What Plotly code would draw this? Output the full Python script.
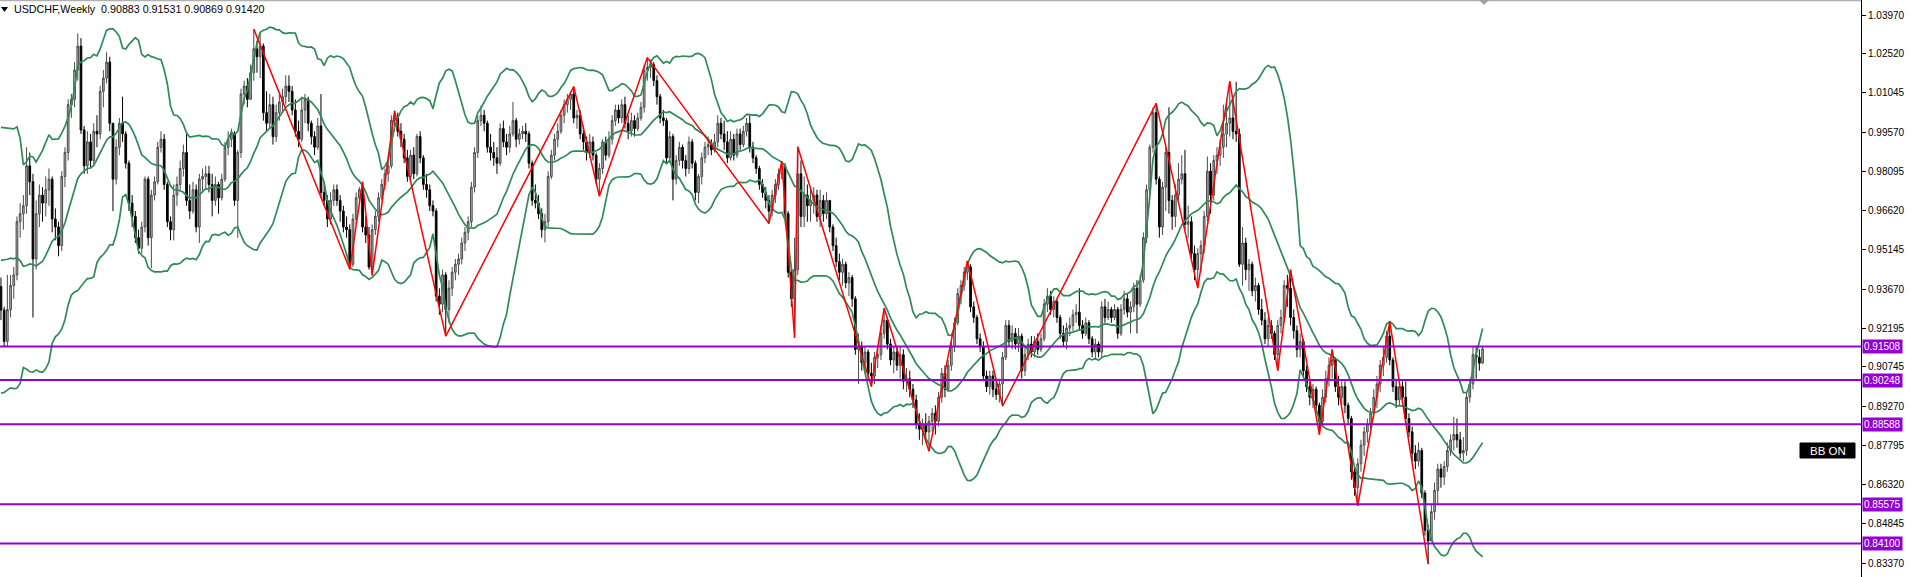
import plotly.graph_objects as go
import pandas as pd

# ---------------- data ----------------
title_text = "USDCHF,Weekly  0.90883 0.91531 0.90869 0.91420"
first_open = 0.9376
# closes of the weeks before the first visible bar (only feed the Bollinger window)
prior_closes = [0.9150, 0.9230, 0.9300, 0.9460, 0.9530, 0.9900, 1.0080, 0.9780, 0.9650, 0.9520,
                0.9760, 0.9560, 0.9500, 0.9300, 0.9250, 0.9100, 0.9340, 0.9420, 0.9376]

closes = [
    .9288, .9170, .9290, .9380, .9420, .9620, .9650, .9680, .9830, .9770,
    .9480, .9650, .9720, .9690, .9740, .9780, .9630, .9600, .9530, .9790,
    .9880, 1.0060, 1.0080, 1.0190, 1.0280, .9965, .9830, .9920, .9850, .9960,
    .9950, 1.0110, 1.0160, 1.0220, .9990, .9780, .9900, .9990, .9950, .9840,
    .9690, .9640, .9560, .9520, .9600, .9780, .9560, .9720, .9770, .9900,
    .9930, .9760, .9620, .9590, .9720, .9760, .9820, .9880, .9700, .9660,
    .9740, .9600, .9780, .9790, .9800, .9760, .9700, .9760, .9710, .9780,
    .9900, .9930, .9950, .9700, .9880, 1.0100, 1.0130, 1.0080, 1.0180, 1.0270,
    1.0240, 1.0280, 1.0030, .9990, 1.0060, .9940, 1.0030, 1.0070, 1.0090, 1.0130,
    1.0110, 1.0040, .9960, .9930, 1.0040, 1.0080, .9990, .9940, .9900, .9980,
    .9730, .9700, .9630, .9700, .9740, .9700, .9660, .9600, .9590, .9460,
    .9630, .9710, .9740, .9600, .9570, .9450, .9590, .9640, .9710, .9760,
    .9800, .9830, 1.0000, 1.0010, .9960, .9930, .9860, .9790, .9870, .9800,
    .9940, .9860, .9760, .9740, .9680, .9660, .9340, .9310, .9420, .9290,
    .9370, .9430, .9460, .9480, .9540, .9580, .9620, .9750, .9880, 1.0000,
    1.0020, .9990, .9900, .9880, .9860, .9840, .9970, .9920, .9900, .9950,
    1.0000, .9930, .9950, .9960, .9950, .9840, .9700, .9690, .9650, .9590,
    .9620, .9790, .9870, .9930, .9960, 1.0020, 1.0060, 1.0080, 1.0100, 1.0010,
    1.0020, .9950, .9920, .9880, .9920, .9870, .9780, .9820, .9920, .9870,
    .9930, 1.0000, 1.0040, 1.0010, 1.0060, .9990, .9960, 1.0000, .9970, 1.0010,
    1.0050, 1.0190, 1.0200, 1.0210, 1.0150, 1.0090, 1.0010, 1.0000, .9860, .9940,
    .9780, .9850, .9900, .9850, .9820, .9920, .9840, .9730, .9790, .9860,
    .9900, .9910, .9890, .9920, .9990, .9950, .9920, .9860, .9930, .9870,
    .9950, .9910, .9960, .9990, .9900, .9860, .9820, .9760, .9730, .9700,
    .9660, .9720, .9760, .9800, .9830, .9650, .9430, .9330, .9440, .9800,
    .9640, .9720, .9680, .9700, .9720, .9640, .9700, .9650, .9700, .9600,
    .9530, .9470, .9430, .9460, .9390, .9410, .9330, .9140, .9150, .9090,
    .9130, .9050, .9040, .9110, .9120, .9200, .9250, .9160, .9100, .9130,
    .9080, .9120, .9020, .9030, .8990, .8950, .8860, .8840, .8860, .8830,
    .8870, .8900, .8870, .8960, .9050, .8990, .9080, .9150, .9240, .9350,
    .9380, .9430, .9450, .9300, .9260, .9180, .9150, .9040, .9000, .9040,
    .8990, .8970, .9010, .9110, .9230, .9170, .9200, .9160, .9190, .9060,
    .9120, .9160, .9130, .9170, .9140, .9180, .9310, .9340, .9290, .9320,
    .9260, .9200, .9170, .9220, .9230, .9270, .9280, .9230, .9200, .9240,
    .9180, .9130, .9160, .9130, .9300, .9260, .9290, .9260, .9290, .9200,
    .9290, .9330, .9280, .9300, .9370, .9310, .9400, .9560, .9740, .9900,
    1.0030, .9780, .9600, .9750, .9880, .9700, .9640, .9720, .9780, .9800,
    .9610, .9620, .9500, .9440, .9500, .9530, .9640, .9810, .9720, .9850,
    .9870, .9900, .9950, .9990, 1.0010, .9960, .9950, .9460, .9540, .9440,
    .9460, .9360, .9380, .9290, .9250, .9180, .9230, .9200, .9120, .9230,
    .9260, .9380, .9370, .9260, .9210, .9140, .9170, .9060, .9000, .8960,
    .8990, .8930, .8870, .8960, .9030, .9080, .9100, .9000, .8960, .9000,
    .8930, .8880, .8680, .8620, .8710, .8780, .8830, .8860, .8900, .8960,
    .9010, .9080, .9110, .9190, .9100, .9000, .8950, .9000, .8960, .8880,
    .8830, .8750, .8720, .8760, .8600, .8460, .8420, .8530, .8610, .8690,
    .8660, .8700, .8760, .8800, .8820, .8800, .8750, .8760, .8960, .9010,
    .9120, .9110, .90883, .91420,
]

highs = [
    .9410, .9300, .9420, .9420, .9450, .9640, .9690, .9720, .9900, .9880,
    .9800, .9700, .9760, .9750, .9790, .9820, .9790, .9670, .9620, .9810,
    .9900, 1.0080, 1.0100, 1.0220, 1.0328, 1.0310, .9980, .9960, .9950, .9990,
    1.0020, 1.0130, 1.0190, 1.0257, 1.0240, .9990, .9930, 1.0010, 1.0090, .9960,
    .9850, .9720, .9660, .9590, .9620, .9790, .9790, .9740, .9790, .9920,
    .9960, .9950, .9770, .9640, .9760, .9790, .9850, .9910, .9950, .9760,
    .9770, .9760, .9800, .9820, .9830, .9830, .9800, .9790, .9770, .9800,
    .9920, .9960, .9970, .9960, .9890, 1.0120, 1.0150, 1.0160, 1.0210, 1.0344,
    1.0300, 1.0330, 1.0290, 1.0110, 1.0100, 1.0090, 1.0060, 1.0100, 1.0120, 1.0170,
    1.0170, 1.0130, 1.0080, 1.0000, 1.0090, 1.0100, 1.0090, 1.0000, .9960, 1.0010,
    1.0100, .9770, .9720, .9730, .9760, .9760, .9720, .9680, .9640, .9610,
    .9650, .9730, .9750, .9770, .9640, .9600, .9610, .9660, .9730, .9780,
    .9820, .9850, 1.0020, 1.0037, 1.0030, .9990, .9950, .9890, .9890, .9900,
    .9950, .9960, .9870, .9800, .9760, .9700, .9670, .9370, .9440, .9430,
    .9400, .9450, .9480, .9500, .9560, .9600, .9640, .9770, .9900, 1.0020,
    1.0056, 1.0040, 1.0000, .9950, .9920, .9900, .9990, 1.0000, .9950, .9980,
    1.0070, 1.0010, .9970, .9980, .9990, .9960, .9850, .9760, .9720, .9670,
    .9650, .9810, .9890, .9950, .9990, 1.0040, 1.0080, 1.0100, 1.0110, 1.0128,
    1.0040, 1.0040, .9980, .9940, .9950, .9940, .9880, .9840, .9930, .9940,
    .9960, 1.0020, 1.0060, 1.0060, 1.0080, 1.0090, 1.0020, 1.0030, 1.0020, 1.0030,
    1.0070, 1.0210, 1.0237, 1.0230, 1.0220, 1.0170, 1.0100, 1.0040, 1.0010, .9960,
    .9950, .9870, .9920, .9910, .9870, .9940, .9930, .9850, .9800, .9880,
    .9920, .9940, .9930, .9950, 1.0020, 1.0010, 1.0000, .9960, .9960, .9950,
    .9970, .9970, .9980, 1.0010, 1.0020, .9920, .9870, .9830, .9780, .9750,
    .9720, .9740, .9780, .9820, .9848, .9840, .9660, .9440, .9560, .9902,
    .9850, .9790, .9760, .9740, .9750, .9740, .9740, .9720, .9730, .9700,
    .9610, .9560, .9500, .9480, .9470, .9430, .9420, .9340, .9200, .9170,
    .9150, .9140, .9090, .9130, .9150, .9230, .9295, .9260, .9180, .9150,
    .9150, .9150, .9140, .9070, .9060, .9010, .8970, .8900, .8880, .8900,
    .8890, .8920, .8930, .8980, .9070, .9080, .9100, .9170, .9260, .9370,
    .9400, .9450, .9473, .9460, .9320, .9270, .9200, .9170, .9060, .9060,
    .9060, .9030, .9030, .9130, .9250, .9250, .9230, .9220, .9220, .9200,
    .9150, .9180, .9190, .9190, .9200, .9200, .9330, .9370, .9360, .9340,
    .9330, .9270, .9230, .9240, .9260, .9290, .9310, .9370, .9250, .9260,
    .9250, .9190, .9180, .9170, .9320, .9330, .9320, .9300, .9310, .9300,
    .9310, .9360, .9350, .9320, .9390, .9400, .9420, .9580, .9760, .9910,
    1.0050, 1.0065, .9790, .9770, .9900, 1.0050, .9720, .9760, .9840, .9870,
    .9890, .9680, .9640, .9530, .9520, .9550, .9660, .9865, .9840, .9870,
    .9900, .9930, 1.0060, 1.0080, 1.0148, 1.0090, 1.0146, .9970, .9600, .9560,
    .9480, .9470, .9410, .9390, .9330, .9280, .9260, .9250, .9210, .9250,
    .9290, .9400, .9420, .9440, .9290, .9230, .9200, .9180, .9080, .9020,
    .9010, .9000, .8940, .8990, .9060, .9110, .9140, .9110, .9040, .9020,
    .9020, .8940, .8890, .8700, .8730, .8800, .8850, .8880, .8920, .8990,
    .9040, .9100, .9150, .9210, .9244, .9110, .9030, .9030, .9020, .9020,
    .8900, .8850, .8780, .8790, .8770, .8610, .8480, .8560, .8640, .8710,
    .8710, .8720, .8790, .8820, .8887, .8880, .8830, .8810, .8980, .9030,
    .9150, .9150, .9140, .91531,
]

lows = [
    .9250, .9150, .9150, .9260, .9330, .9400, .9560, .9590, .9650, .9720,
    .9260, .9440, .9600, .9620, .9640, .9680, .9580, .9550, .9490, .9510,
    .9750, .9850, 1.0010, 1.0050, 1.0150, .9950, .9800, .9800, .9820, .9830,
    .9900, .9930, 1.0050, 1.0140, .9960, .9660, .9760, .9870, .9920, .9820,
    .9660, .9600, .9540, .9500, .9500, .9580, .9530, .9445, .9700, .9760,
    .9880, .9740, .9600, .9550, .9550, .9680, .9740, .9790, .9680, .9630,
    .9650, .9580, .9540, .9730, .9740, .9730, .9640, .9680, .9650, .9700,
    .9770, .9870, .9900, .9680, .9560, .9860, 1.0060, 1.0050, 1.0080, 1.0150,
    1.0180, 1.0160, 1.0000, .9960, .9970, .9910, .9920, 1.0000, 1.0030, 1.0060,
    1.0070, 1.0020, .9940, .9900, .9920, .9990, .9960, .9910, .9870, .9890,
    .9710, .9680, .9600, .9610, .9680, .9680, .9620, .9580, .9560, .9441,
    .9450, .9610, .9690, .9580, .9540, .9440, .9418, .9570, .9620, .9700,
    .9740, .9770, .9820, .9960, .9940, .9900, .9840, .9770, .9770, .9780,
    .9790, .9840, .9740, .9710, .9660, .9640, .9320, .9270, .9280, .9190,
    .9240, .9340, .9400, .9420, .9460, .9510, .9550, .9600, .9730, .9860,
    .9980, .9960, .9880, .9850, .9830, .9800, .9830, .9900, .9870, .9880,
    .9940, .9900, .9910, .9930, .9920, .9820, .9680, .9670, .9630, .9560,
    .9542, .9600, .9780, .9850, .9900, .9950, .9990, 1.0030, 1.0040, .9990,
    .9970, .9930, .9890, .9850, .9860, .9850, .9760, .9716, .9800, .9850,
    .9860, .9910, .9980, .9990, .9990, .9970, .9930, .9940, .9940, .9960,
    1.0000, 1.0030, 1.0150, 1.0160, 1.0130, 1.0060, .9990, .9980, .9840, .9840,
    .9700, .9760, .9830, .9820, .9790, .9800, .9820, .9700, .9690, .9760,
    .9840, .9870, .9870, .9880, .9900, .9930, .9890, .9840, .9850, .9850,
    .9860, .9890, .9900, .9940, .9880, .9840, .9800, .9740, .9710, .9670,
    .9613, .9640, .9690, .9740, .9780, .9630, .9410, .9300, .9183, .9420,
    .9600, .9600, .9620, .9620, .9650, .9620, .9600, .9620, .9630, .9580,
    .9510, .9450, .9400, .9380, .9370, .9340, .9300, .9120, .9010, .9060,
    .9050, .9020, .9000, .9010, .9070, .9100, .9180, .9140, .9080, .9050,
    .9060, .9030, .8990, .8980, .8960, .8920, .8840, .8800, .8780, .8790,
    .8757, .8830, .8820, .8850, .8940, .8960, .8980, .9060, .9130, .9230,
    .9310, .9360, .9400, .9280, .9240, .9160, .9130, .9020, .8980, .8970,
    .8960, .8950, .8940, .8927, .9100, .9150, .9140, .9140, .9130, .9030,
    .9040, .9100, .9110, .9110, .9120, .9130, .9170, .9280, .9270, .9260,
    .9240, .9180, .9150, .9140, .9190, .9210, .9240, .9210, .9180, .9190,
    .9160, .9110, .9100, .9110, .9110, .9240, .9250, .9240, .9250, .9180,
    .9190, .9270, .9260, .9200, .9280, .9200, .9300, .9390, .9540, .9720,
    .9880, .9760, .9560, .9570, .9660, .9650, .9590, .9600, .9700, .9760,
    .9590, .9560, .9480, .9400, .9370, .9430, .9500, .9620, .9650, .9700,
    .9800, .9830, .9860, .9900, .9940, .9930, .9920, .9450, .9380, .9400,
    .9360, .9340, .9320, .9270, .9230, .9160, .9150, .9180, .9100, .9060,
    .9200, .9240, .9300, .9230, .9180, .9110, .9110, .9040, .8980, .8930,
    .8920, .8900, .8820, .8850, .8940, .9000, .9030, .8980, .8930, .8930,
    .8900, .8860, .8650, .8590, .8552, .8680, .8740, .8790, .8840, .8880,
    .8920, .8980, .9040, .9090, .9080, .8980, .8920, .8930, .8940, .8860,
    .8810, .8720, .8690, .8700, .8580, .8440, .8333, .8420, .8500, .8560,
    .8620, .8630, .8680, .8740, .8760, .8770, .8730, .8720, .8740, .8940,
    .8990, .9030, .9060, .90869,
]

# ZigZag pivots (bar index, price)
zz_bars = [79, 109, 113, 116, 123, 139, 179, 187, 202, 240, 244, 248, 249, 272, 276,
           290, 302, 313, 361, 374, 384, 399, 403, 412, 416, 424, 434, 446]
zz_prices = [1.0344, .9441, .9770, .9418, 1.0037, .9190, 1.0128, .9716, 1.0237, .9613,
             .9848, .9183, .9902, .9000, .9295, .8757, .9473, .8927, 1.0065, .9370,
             1.0148, .9060, .9440, .8820, .9140, .8552, .9244, .8333]

# horizontal levels
level_prices = [0.91508, 0.90248, 0.88588, 0.85575, 0.84100]
level_labels = ["0.91508", "0.90248", "0.88588", "0.85575", "0.84100"]

# price-scale labels
tick_vals = [1.03970, 1.02520, 1.01045, 0.99570, 0.98095, 0.96620, 0.95145, 0.93670,
             0.92195, 0.90745, 0.89270, 0.87795, 0.86320, 0.84845, 0.83370]
tick_text = ["1.03970", "1.02520", "1.01045", "0.99570", "0.98095", "0.96620", "0.95145",
             "0.93670", "0.92195", "0.90745", "0.89270", "0.87795", "0.86320", "0.84845",
             "0.83370"]

bb_period = 20
bb_dev = 2.0

# ---------------- derived ----------------
n = len(closes)
if not (len(highs) == n and len(lows) == n):
    raise ValueError(f"length mismatch {n} {len(highs)} {len(lows)}")
opens = [first_open] + closes[:-1]
bars = list(range(n))

series = pd.Series(prior_closes + closes)
mid = series.rolling(bb_period).mean()
sd = series.rolling(bb_period).std(ddof=0)
k = len(prior_closes)
bb_mid = mid.iloc[k:].tolist()
bb_up = (mid + bb_dev * sd).iloc[k:].tolist()
bb_lo = (mid - bb_dev * sd).iloc[k:].tolist()

# ---------------- figure ----------------
W, H = 1911, 577
PLOT_W = 1861
px_per_bar = 3.2
x0 = -0.3
x1 = x0 + PLOT_W / px_per_bar
y_top, y_bot = 1.04534, 0.82844

FONT = "Liberation Sans, Arial, sans-serif"
GREEN = "#2E8B57"
PURPLE = "#9400D3"

fig = go.Figure()

for arr in (bb_up, bb_mid, bb_lo):
    fig.add_trace(go.Scatter(x=bars, y=arr, mode="lines",
                             line=dict(color=GREEN, width=1.7), hoverinfo="skip"))

fig.add_trace(go.Candlestick(
    x=bars, open=opens, high=highs, low=lows, close=closes,
    increasing=dict(line=dict(color="#4a4a4a", width=1), fillcolor="#b4b4b4"),
    decreasing=dict(line=dict(color="#000000", width=1), fillcolor="#000000"),
    whiskerwidth=0,
))

fig.add_trace(go.Scatter(x=zz_bars, y=zz_prices, mode="lines",
                         line=dict(color="#FF0000", width=1.5), hoverinfo="skip"))

shapes = []
for p in level_prices:
    shapes.append(dict(type="line", xref="paper", yref="y", x0=0, x1=1, y0=p, y1=p,
                       line=dict(color=PURPLE, width=2), layer="above"))


def px2paper_x(px):
    return px / PLOT_W


def py2paper_y(py):
    return 1 - py / H


# top border
shapes.append(dict(type="line", xref="paper", yref="paper", x0=0, x1=1, y0=py2paper_y(0.5),
                   y1=py2paper_y(0.5), line=dict(color="#b0b0b0", width=1.5)))
# left triangle in header
shapes.append(dict(type="path", xref="paper", yref="paper",
                   path=(f"M {px2paper_x(1)},{py2paper_y(7)} L {px2paper_x(8)},{py2paper_y(7)} "
                         f"L {px2paper_x(4.5)},{py2paper_y(12)} Z"),
                   fillcolor="#000000", line=dict(width=0)))
# chart shift marker
shapes.append(dict(type="path", xref="paper", yref="paper",
                   path=(f"M {px2paper_x(1479)},{py2paper_y(0)} L {px2paper_x(1489)},{py2paper_y(0)} "
                         f"L {px2paper_x(1484)},{py2paper_y(5)} Z"),
                   fillcolor="#a0a0a0", line=dict(width=0)))
# BB ON button
shapes.append(dict(type="rect", xref="paper", yref="paper",
                   x0=px2paper_x(1800), x1=px2paper_x(1855),
                   y0=py2paper_y(458), y1=py2paper_y(443),
                   fillcolor="#000000", line=dict(color="#000000", width=1)))

annotations = [
    dict(text=title_text, xref="paper", yref="paper", x=px2paper_x(12), y=py2paper_y(9),
         xanchor="left", yanchor="middle", showarrow=False,
         font=dict(family=FONT, size=10.7, color="#000000")),
    dict(text="BB ON", xref="paper", yref="paper", x=px2paper_x(1827.5), y=py2paper_y(450.5),
         xanchor="center", yanchor="middle", showarrow=False,
         font=dict(family=FONT, size=11.5, color="#ffffff")),
]
for p, lab in zip(level_prices, level_labels):
    annotations.append(dict(text=lab, xref="paper", yref="y", x=1, y=p, xanchor="left",
                            yanchor="middle", xshift=1, showarrow=False, bgcolor=PURPLE,
                            borderpad=1, font=dict(family=FONT, size=10, color="#ffffff")))

fig.update_layout(
    width=W, height=H, autosize=False,
    margin=dict(l=0, r=W - PLOT_W, t=0, b=0),
    paper_bgcolor="#ffffff", plot_bgcolor="#ffffff",
    showlegend=False, boxgap=0.25,
    shapes=shapes, annotations=annotations,
    xaxis=dict(range=[x0, x1], showgrid=False, zeroline=False, showticklabels=False,
               ticks="", showline=False, rangeslider=dict(visible=False), fixedrange=True),
    yaxis=dict(range=[y_bot, y_top], side="right", showgrid=False, zeroline=False,
               tickmode="array", tickvals=tick_vals, ticktext=tick_text,
               ticks="outside", ticklen=4, tickcolor="#000000", tickwidth=1,
               showline=True, linecolor="#000000", linewidth=1,
               tickfont=dict(family=FONT, size=10, color="#000000"), fixedrange=True),
)

fig.write_html(
    "out.html",
    config={"displayModeBar": False},
    post_script="document.body.style.margin='0';document.body.style.overflow='hidden';",
)
